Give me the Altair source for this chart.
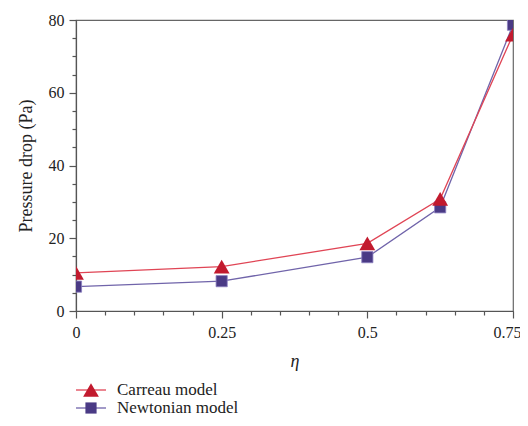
import altair as alt
import pandas as pd

eta = [0.0, 0.25, 0.5, 0.625, 0.75]
carreau = [10.5, 12.2, 18.6, 30.8, 76.0]
newtonian = [6.7, 8.2, 14.8, 28.5, 78.7]
series_names = ["Carreau model", "Newtonian model"]

x_ticks = [round(i * 0.05, 2) for i in range(16)]
y_ticks = list(range(0, 81, 5))

red_fill = "#C21A2E"
red_line = "#E04555"
purple_fill = "#4A3A85"
purple_line = "#7064AA"
FONT = "Liberation Serif"

df = pd.DataFrame({
    "eta": eta * 2,
    "value": carreau + newtonian,
    "series": [series_names[0]] * len(eta) + [series_names[1]] * len(eta),
})

xscale = alt.Scale(domain=[0, 0.75], nice=False, zero=False)
yscale = alt.Scale(domain=[0, 80], nice=False)

major_x = "abs(datum.value*4 - round(datum.value*4)) < 0.001"
xaxis = alt.Axis(
    values=x_ticks,
    labelExpr=major_x + " ? toString(datum.value) : ''",
    tickSize={"condition": {"test": major_x, "value": 7}, "value": 4},
    labelAlign={"condition": {"test": "datum.value > 0.74", "value": "right"}, "value": "center"},
    labelOffset={"condition": {"test": "datum.value > 0.74", "value": 8}, "value": 0},
    grid=False, title="η", titleFontStyle="italic", titleFontWeight="normal",
    titleFont=FONT, labelFont=FONT,
    titleFontSize=18, titlePadding=12, labelPadding=6, labelFontSize=16,
    labelFlush=False,
)
yaxis = alt.Axis(
    values=y_ticks,
    labelExpr="datum.value % 20 === 0 ? toString(datum.value) : ''",
    tickSize={"condition": {"test": "datum.value % 20 === 0", "value": 7}, "value": 4},
    grid=False, title="Pressure drop (Pa)", titleFontWeight="normal",
    titleFont=FONT, labelFont=FONT,
    titleFontSize=18, titlePadding=13, labelPadding=5, labelFontSize=16,
    labelFlush=False,
)

base = alt.Chart(df)
enc_x = alt.X("eta:Q", scale=xscale, axis=xaxis)
enc_y = alt.Y("value:Q", scale=yscale, axis=yaxis)

lines_c = base.transform_filter(alt.datum.series == series_names[0]).mark_line(
    color=red_line, strokeWidth=1.3, clip=True).encode(x=enc_x, y=enc_y)
lines_n = base.transform_filter(alt.datum.series == series_names[1]).mark_line(
    color=purple_line, strokeWidth=1.3, clip=True).encode(x=enc_x, y=enc_y)
pts_n = base.transform_filter(alt.datum.series == series_names[1]).mark_point(
    shape="square", filled=True, size=125, color=purple_fill, opacity=1,
    stroke="#8C80C0", strokeWidth=0.8, clip=True).encode(x=enc_x, y=enc_y)
pts_c = base.transform_filter(alt.datum.series == series_names[0]).mark_point(
    shape="triangle-up", filled=True, size=250, color=red_fill, opacity=1,
    clip=True).encode(x=enc_x, y=enc_y)

# manual legend below the plot
def legend_row(i, shape, size, fill, line):
    d = alt.Chart(pd.DataFrame({"label": [series_names[i]]}))
    yv = 370 + i * 18
    r = d.mark_rule(color=line, strokeWidth=1.3).encode(
        x=alt.value(0), x2=alt.value(30), y=alt.value(yv))
    p = d.mark_point(shape=shape, filled=True, size=size, color=fill, opacity=1).encode(
        x=alt.value(15), y=alt.value(yv))
    t = d.mark_text(align="left", baseline="alphabetic", font=FONT, fontSize=17,
                    color="#222222").encode(
        x=alt.value(41), y=alt.value(yv + 5), text="label:N")
    return r + p + t

legend_layers = legend_row(0, "triangle-up", 250, red_fill, red_line) + \
    legend_row(1, "square", 125, purple_fill, purple_line)

chart = alt.layer(lines_n, lines_c, pts_n, pts_c, legend_layers).properties(
    width=437, height=291,
    autosize=alt.AutoSizeParams(type="none"),
    padding={"left": 68, "top": 12, "right": 7, "bottom": 107},
).configure_axis(
    labelColor="#222222", titleColor="#222222",
    domainColor="#555555", tickColor="#555555", domainWidth=1.2, tickWidth=1.2,
).configure_view(
    stroke="#666666", strokeWidth=1.2,
)

chart.save("out.html", embed_options={"renderer": "svg", "actions": False})
